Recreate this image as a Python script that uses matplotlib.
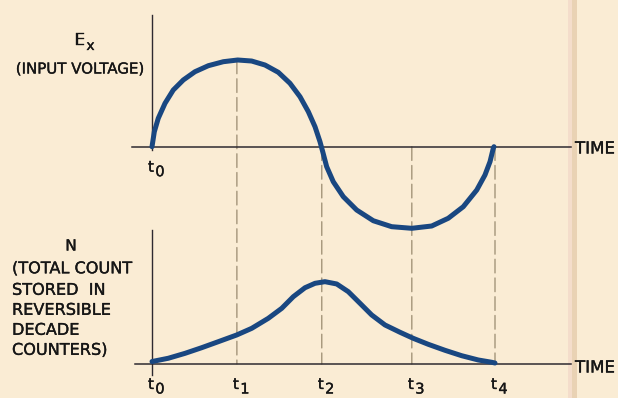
import matplotlib
matplotlib.use("Agg")
import matplotlib.pyplot as plt
import matplotlib.patheffects as pe
from matplotlib.patches import ConnectionPatch, Rectangle

# ---------------- data ----------------
t_marks = [0.0, 0.99, 1.98, 3.03, 4.0]          # t0 .. t4 on the time axis
t_labels = ["0", "1", "2", "3", "4"]

# E_x (input voltage) curve, time units vs. relative amplitude
ex_t = [0.0, 0.027, 0.073, 0.152, 0.248, 0.365, 0.501, 0.657, 0.832, 0.999,
        1.162, 1.318, 1.473, 1.609, 1.726, 1.823, 1.901, 1.959, 1.991, 2.037,
        2.114, 2.231, 2.387, 2.581, 2.795, 3.029, 3.262, 3.455, 3.630, 3.787,
        3.883, 3.942, 3.980, 3.988]
ex_v = [0.0, 0.176, 0.334, 0.511, 0.667, 0.785, 0.882, 0.953, 1.0, 1.02,
        1.008, 0.961, 0.875, 0.746, 0.588, 0.412, 0.235, 0.059, -0.059, -0.235,
        -0.412, -0.588, -0.745, -0.871, -0.941, -0.96, -0.933, -0.842, -0.706, -0.510,
        -0.333, -0.176, -0.019, 0.0]

# N (total count) curve
n_t = [0.0, 0.190, 0.385, 0.580, 0.773, 0.988, 1.163, 1.356, 1.513, 1.648,
       1.784, 1.901, 2.017, 2.154, 2.289, 2.426, 2.562, 2.717, 2.892, 3.047,
       3.222, 3.417, 3.612, 3.805, 3.962, 4.0]
n_v = [0.03, 0.070, 0.130, 0.199, 0.272, 0.354, 0.435, 0.557, 0.679, 0.821,
       0.930, 0.984, 1.004, 0.976, 0.882, 0.740, 0.598, 0.476, 0.387, 0.313,
       0.240, 0.167, 0.101, 0.049, 0.021, 0.012]

# value on the upper chart where each dashed guide starts (t1..t4)
guide_start = [1.02, 0.0, 0.0, 0.0]

ex_title = "E"
ex_sub = "x"
ex_desc = "(INPUT VOLTAGE)"
n_title = "N"
n_desc = ["(TOTAL COUNT", "STORED  IN", "REVERSIBLE", "DECADE", "COUNTERS)"]
axis_word = "TIME"

# ---------------- styling / layout ----------------
W, H = 618, 398
BG = "#FAECD4"
CURVE = "#194781"
AXC = "#2E2A30"
DASHC = "#9A8B70"
TXT = "#161616"
FONT = "DejaVu Sans"
BOLDEN = [pe.withStroke(linewidth=0.25, foreground=TXT)]

PX_PER_T = 85.75
T0_PX = 152.0
TOP_BASE_PX, TOP_SCALE = 146.7, 85.0
BOT_BASE_PX, BOT_SCALE = 364.0, 82.0

fig = plt.figure(figsize=(W / 100, H / 100), dpi=100)
fig.patch.set_facecolor(BG)


def fx(px):
    return px / W


def fy(py):
    return 1 - py / H


def label(x, y, s, size, ha="left"):
    fig.text(fx(x), fy(y), s, ha=ha, va="baseline", fontsize=size,
             color=TXT, family=FONT, path_effects=BOLDEN)


# paper fold band on the right
fig.add_artist(Rectangle((fx(568), 0), fx(4), 1, transform=fig.transFigure,
                         facecolor="#F4DDCB", edgecolor="none", zorder=-3))
fig.add_artist(Rectangle((fx(572), 0), fx(5), 1, transform=fig.transFigure,
                         facecolor="#E9D2B4", edgecolor="none", zorder=-3))

xlim = ((0 - T0_PX) / PX_PER_T, (W - T0_PX) / PX_PER_T)

ax_top = fig.add_axes([0, 0, 1, 1])
ax_top.set_xlim(*xlim)
ax_top.set_ylim((TOP_BASE_PX - H) / TOP_SCALE, TOP_BASE_PX / TOP_SCALE)
ax_bot = fig.add_axes([0, 0, 1, 1])
ax_bot.set_xlim(*xlim)
ax_bot.set_ylim((BOT_BASE_PX - H) / BOT_SCALE, BOT_BASE_PX / BOT_SCALE)
for ax in (ax_top, ax_bot):
    ax.set_facecolor("none")
    ax.axis("off")

# axes lines
t_end = (571 - T0_PX) / PX_PER_T
ax_top.plot([(132 - T0_PX) / PX_PER_T, t_end], [0, 0], color=AXC, lw=1.1, zorder=2)
ax_top.plot([0, 0], [(TOP_BASE_PX - 15) / TOP_SCALE, (TOP_BASE_PX - 150) / TOP_SCALE],
            color=AXC, lw=1.0, zorder=2)
ax_bot.plot([(135 - T0_PX) / PX_PER_T, t_end], [0, 0], color=AXC, lw=1.1, zorder=2)
ax_bot.plot([0, 0], [(BOT_BASE_PX - 230) / BOT_SCALE, (BOT_BASE_PX - 375) / BOT_SCALE],
            color=AXC, lw=1.0, zorder=2)

# dashed guides from upper chart down to lower baseline
for t, v in zip(t_marks[1:], guide_start):
    cp = ConnectionPatch(xyA=(t, v), coordsA=ax_top.transData,
                         xyB=(t, 0), coordsB=ax_bot.transData,
                         arrowstyle="-", shrinkA=0, shrinkB=0,
                         color=DASHC, lw=0.9, linestyle=(0, (11, 4)), zorder=-1)
    fig.add_artist(cp)

# curves
ax_top.plot(ex_t, ex_v, color=CURVE, lw=3.6, solid_capstyle="round",
            solid_joinstyle="round", zorder=3)
ax_bot.plot(n_t, n_v, color=CURVE, lw=3.6, solid_capstyle="round",
            solid_joinstyle="round", zorder=3)


# t labels
def tlabel(ax, t, digit):
    ax.annotate("t", xy=(t, 0), xycoords="data", xytext=(-1, -25),
                textcoords="offset pixels", ha="center", va="baseline",
                fontsize=11, color=TXT, family=FONT, annotation_clip=False,
                path_effects=BOLDEN)
    ax.annotate(digit, xy=(t, 0), xycoords="data", xytext=(8, -29.5),
                textcoords="offset pixels", ha="center", va="baseline",
                fontsize=10.5, color=TXT, family=FONT, annotation_clip=False,
                path_effects=BOLDEN)


tlabel(ax_top, t_marks[0], t_labels[0])
for t, d in zip(t_marks, t_labels):
    tlabel(ax_bot, t, d)

# TIME words
label(575, 153.5, axis_word, 12)
label(575, 372.5, axis_word, 12)

# left titles
label(80, 45, ex_title, 12, ha="center")
label(90.5, 50, ex_sub, 10, ha="center")
label(80, 73.5, ex_desc, 10.8, ha="center")

label(71, 250.5, n_title, 11, ha="center")
for line, yc in zip(n_desc, [267.5, 289, 309, 329, 349]):
    label(12, yc + 5.8, line, 11.6)

fig.savefig("out.png", dpi=100, facecolor=BG)
